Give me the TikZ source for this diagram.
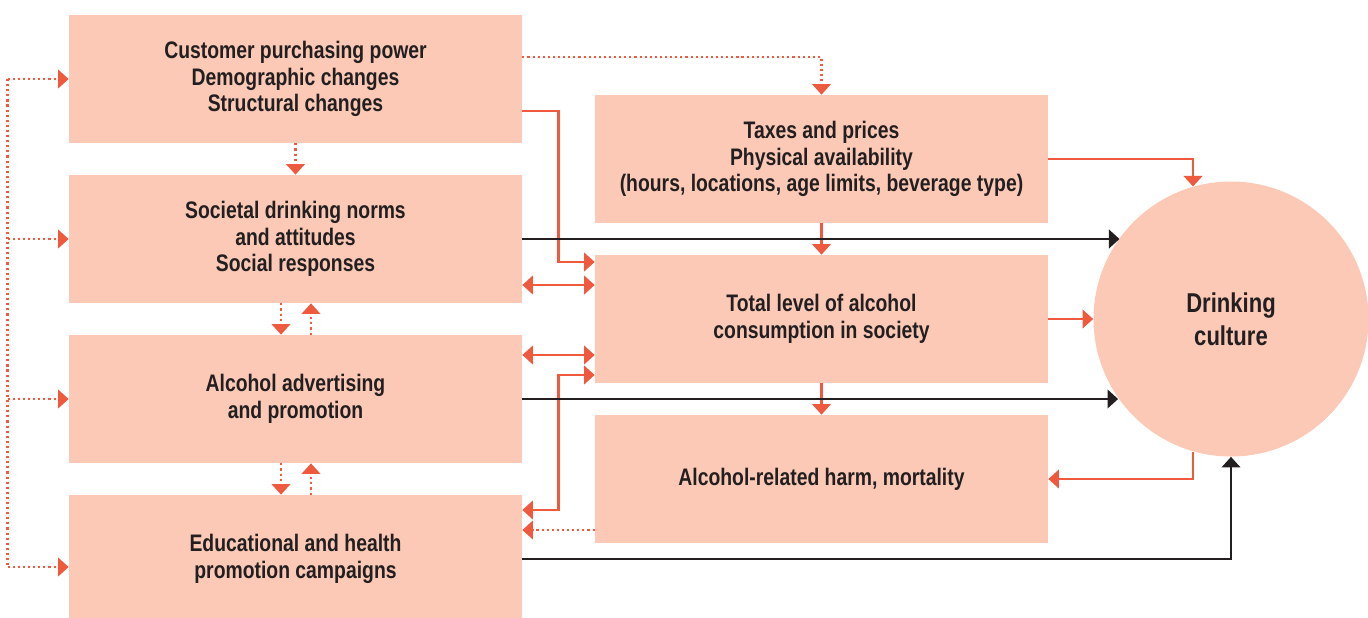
\documentclass[tikz,border=0pt]{standalone}
\usepackage{fontspec}
\setmainfont{Liberation Sans}[FakeStretch=0.81]
\usetikzlibrary{positioning, arrows.meta}
\definecolor{peach}{HTML}{FBC9B5}
\definecolor{tomato}{HTML}{EF5A3F}
\definecolor{ink}{HTML}{231F20}
\tikzset {
    ->,
    >={Triangle[width=10.5pt, length=6pt]},
    node distance=3.2cm,
    factor/.style={fill=peach, text=ink, align=center, inner sep=0pt,
        minimum width=9.06cm, minimum height=2.56cm,
        font=\bfseries\fontsize{13.6}{15.1}\selectfont},
    hub/.style={circle, fill=peach, text=ink, align=center, inner sep=0pt,
        minimum size=5.5cm, font=\bfseries\fontsize{15.5}{19}\selectfont},
    push/.style={tomato, line width=1.5pt},
    hint/.style={tomato, line width=1.4pt, dash pattern=on 1.2pt off 1.7pt},
    flow/.style={ink, line width=1.6pt}
}

\begin{document}
\begin{tikzpicture}
    \useasboundingbox (0,0) rectangle (27.36,-12.34);

    \node[factor] (power) at (5.91,-1.58) {Customer purchasing power\\Demographic changes\\Structural changes};
    \node[factor, below of=power] (norms) {Societal drinking norms\\and attitudes\\Social responses};
    \node[factor, below of=norms] (advert) {Alcohol advertising\\and promotion};
    \node[factor, below of=advert] (campaign) {Educational and health\\promotion campaigns};

    \node[factor, node distance=10.52cm, right of=norms, yshift=-1.6cm] (total) {Total level of alcohol\\consumption in society};
    \node[factor, above of=total] (taxes) {Taxes and prices\\Physical availability\\(hours, locations, age limits, beverage type)};
    \node[factor, below of=total] (harm) {Alcohol-related harm, mortality};
    \node[hub, node distance=8.19cm, right of=total] (culture) {Drinking\\culture};

    % dotted feedback on the left
    \coordinate (bustop) at ([xshift=-1.22cm]power.west);
    \coordinate (busend) at ([xshift=-1.22cm, yshift=-0.16cm]campaign.west);
    \draw[hint, -] (bustop) -- (busend);
    \draw[hint, -]
    (bustop) edge[->] (power.west)
    (bustop |- norms.west) edge[->] (norms.west)
    (bustop |- advert.west) edge[->] (advert.west)
    (busend) edge[->] (busend -| campaign.west);

    % dotted links between the factors
    \draw[hint] ([yshift=0.44cm]power.east) -| (taxes.north);
    \draw[hint] (power.south) -- (norms.north);
    \draw[hint, -]
    ([xshift=-0.29cm]norms.south) edge[->] ([xshift=-0.29cm]advert.north)
    ([xshift=0.31cm]advert.north) edge[->] ([xshift=0.31cm]norms.south)
    ([xshift=-0.29cm]advert.south) edge[->] ([xshift=-0.29cm]campaign.north)
    ([xshift=0.31cm]campaign.north) edge[->] ([xshift=0.31cm]advert.south);
    \coordinate (hback) at ([yshift=-1.02cm]harm.west);
    \draw[hint] (hback) -- (hback -| campaign.east);

    % solid links into the middle column
    \coordinate (n2t) at ([yshift=-0.92cm]norms.east);
    \coordinate (a2t) at ([yshift=0.88cm]advert.east);
    \draw[push, <->] (n2t) -- (n2t -| total.west);
    \draw[push, <->] (a2t) -- (a2t -| total.west);
    \draw[push] ([yshift=-0.64cm]power.east) -- ++(0.72,0) |- ([yshift=1.14cm]total.west);
    \draw[push, <->] ([yshift=0.98cm]campaign.east) -- ++(0.72,0) |- ([yshift=-1.12cm]total.west);
    \draw[push] (taxes.south) -- (total.north);
    \draw[push] (total.south) -- (harm.north);

    % drinking culture
    \draw[push] (taxes.east) -| (culture.106);
    \draw[push] (total.east) -- (culture.west);
    \draw[push] (culture.254) |- (harm.east);
    \draw[flow] (norms.east) -- (norms.east -| culture.144.4);
    \draw[flow] (advert.east) -- (advert.east -| culture.215.6);
    \draw[flow] (campaign.east) -| (culture.south);

\end{tikzpicture}
\end{document}
